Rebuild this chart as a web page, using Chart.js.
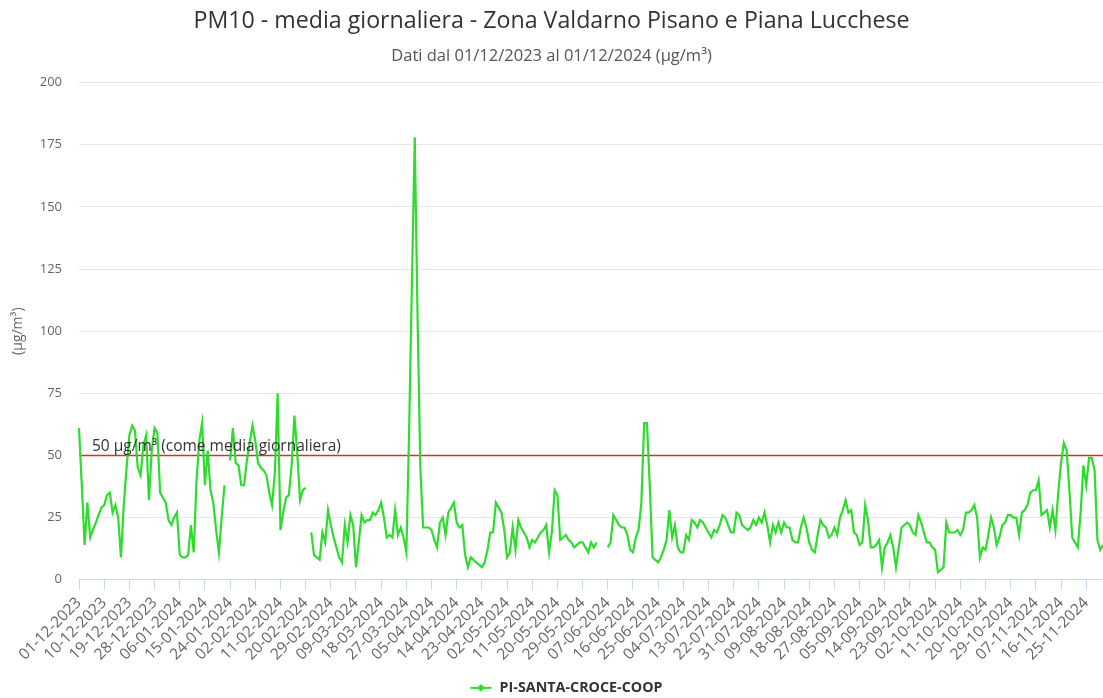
<!DOCTYPE html>
<html><head><meta charset="utf-8">
<script src="https://cdn.jsdelivr.net/npm/chart.js@4.4.1/dist/chart.umd.min.js"></script>
<style>html,body{margin:0;padding:0;background:#fff}#wrap{width:1103px;height:698px;position:relative}</style>
</head><body><div id="wrap"><canvas id="c"></canvas></div>
<script>
// ---- data ----
const titleText = 'PM10 - media giornaliera - Zona Valdarno Pisano e Piana Lucchese';
const subtitleText = 'Dati dal 01/12/2023 al 01/12/2024 (µg/m³)';
const seriesName = 'PI-SANTA-CROCE-COOP';
const startDay = [2023, 12, 1];   // first category (day/month/year labels built from it)
const dayCount = 367;             // 01-12-2023 ... 01-12-2024
const labelEvery = 9;             // a tick label every 9 days
const yTicks = [0, 25, 50, 75, 100, 125, 150, 175, 200];
const threshold = 50;
const thresholdLabel = '50 µg/m³ (come media giornaliera)';
const yTitle = '(µg/m³)';
const pm10 = [
  61, 38, 14, 31, 17, 20, 23, 26, 29, 30,
  34, 35, 27, 30, 25, 9, 30, 45, 58, 62,
  60, 45, 42, 54, 58, 32, 52, 61, 59, 35,
  33, 31, 24, 22, 25, 27, 10, 9, 9, 10,
  22, 11, 40, 56, 63, 38, 52, 36, 31, 20,
  11, 25, 38, null, 48, 61, 47, 46, 38, 38,
  48, 55, 62, 56, 47, 45, 44, 42, 35, 30,
  43, 75, 20, 27, 33, 34, 46, 66, 51, 32,
  36, 37, null, 19, 10, 9, 8, 19, 15, 28,
  22, 17, 13, 9, 7, 22, 15, 26, 22, 5,
  15, 26, 23, 24, 24, 27, 26, 28, 31, 25,
  17, 18, 17, 28, 18, 21, 17, 11, 60, 120,
  178, 106, 45, 21, 21, 21, 20, 16, 13, 23,
  25, 18, 27, 29, 31, 23, 21, 22, 10, 5,
  9, 8, 7, 6, 5, 7, 12, 19, 19, 31,
  29, 27, 20, 9, 11, 21, 12, 24, 21, 19,
  17, 13, 16, 15, 17, 19, 20, 22, 11, 19,
  36, 34, 16, 17, 18, 16, 15, 13, 14, 15,
  15, 13, 11, 15, 13, 15, null, null, null, 13,
  15, 26, 24, 22, 21, 21, 18, 12, 11, 17,
  20, 31, 63, 63, 38, 9, 8, 7, 9, 12,
  16, 28, 17, 22, 13, 11, 11, 18, 16, 24,
  23, 21, 24, 23, 21, 19, 17, 20, 19, 22,
  26, 25, 22, 19, 19, 27, 26, 22, 21, 20,
  21, 24, 22, 25, 23, 27, 22, 15, 22, 19,
  23, 19, 23, 21, 21, 16, 15, 15, 21, 25,
  21, 15, 12, 11, 18, 24, 22, 21, 17, 18,
  21, 18, 25, 28, 32, 27, 28, 19, 18, 14,
  15, 30, 24, 13, 13, 14, 16, 5, 13, 15,
  18, 13, 5, 13, 21, 22, 23, 22, 19, 18,
  26, 23, 19, 15, 15, 13, 12, 3, 4, 5,
  23, 19, 19, 19, 20, 18, 20, 27, 27, 28,
  30, 25, 9, 13, 12, 18, 25, 21, 14, 17,
  22, 23, 26, 26, 25, 25, 18, 27, 28, 30,
  35, 36, 36, 40, 26, 27, 28, 21, 28, 20,
  35, 47, 55, 52, 36, 17, 15, 13, 27, 46,
  38, 49, 49, 44, 16, 12, 14
];

// ---- categories (dates) ----
const pad2 = n => String(n).padStart(2, '0');
const categories = [];
for (let i = 0; i < dayCount; i++) {
  const d = new Date(Date.UTC(startDay[0], startDay[1] - 1, startDay[2] + i));
  categories.push(pad2(d.getUTCDate()) + '-' + pad2(d.getUTCMonth() + 1) + '-' + d.getUTCFullYear());
}

// ---- style ----
const FONT = "'Open Sans', sans-serif";
Chart.defaults.font.family = FONT;
Chart.defaults.color = '#666';
const green = '#2edc2e';

// legend symbol: line with diamond (left part kept blank to shift the item like the reference)
const sym = document.createElement('canvas');
sym.width = 52; sym.height = 10;
(function () {
  const g = sym.getContext('2d');
  const x0 = 30;
  g.strokeStyle = green; g.lineWidth = 2;
  g.beginPath(); g.moveTo(x0, 5); g.lineTo(x0 + 21, 5); g.stroke();
  g.fillStyle = green;
  g.beginPath(); g.moveTo(x0 + 10.5, 1); g.lineTo(x0 + 14.5, 5); g.lineTo(x0 + 10.5, 9); g.lineTo(x0 + 6.5, 5); g.closePath(); g.fill();
})();

const thresholdPlugin = {
  id: 'threshold',
  beforeDatasetsDraw(chart) {
    const {ctx, chartArea, scales: {y}} = chart;
    const py = y.getPixelForValue(threshold);
    ctx.save();
    ctx.strokeStyle = '#cc3333'; ctx.lineWidth = 1.5;
    ctx.beginPath(); ctx.moveTo(chartArea.left, py); ctx.lineTo(chartArea.right, py); ctx.stroke();
    ctx.restore();
  },
  afterDatasetsDraw(chart) {
    const {ctx, chartArea, scales: {y}} = chart;
    const py = y.getPixelForValue(threshold);
    ctx.save();
    ctx.fillStyle = '#333'; ctx.font = "15.5px " + FONT; ctx.textBaseline = 'bottom';
    ctx.fillText(thresholdLabel, chartArea.left + 13, py - 1);
    ctx.restore();
  }
};

new Chart(document.getElementById('c'), {
  type: 'line',
  data: {
    labels: categories,
    datasets: [{
      label: seriesName,
      data: pm10,
      borderColor: green,
      backgroundColor: green,
      borderWidth: 2.2,
      pointRadius: 0,
      pointHoverRadius: 0,
      tension: 0,
      spanGaps: false
    }]
  },
  options: {
    responsive: true,
    maintainAspectRatio: false,
    animation: false,
    layout: { padding: { top: 0, right: 0, bottom: -7, left: 0 } },
    plugins: {
      title: { display: true, text: titleText, color: '#333', font: { size: 23.2, weight: 'normal' }, padding: { top: 7, bottom: 7 } },
      subtitle: { display: true, text: subtitleText, color: '#555', font: { size: 16.5 }, padding: { top: 5, bottom: 16 } },
      legend: {
        position: 'bottom',
        labels: { usePointStyle: true, pointStyle: sym, pointStyleWidth: 52, padding: 4, color: '#333', font: { size: 14.3, weight: 'bold' } }
      },
      tooltip: { enabled: false }
    },
    scales: {
      x: {
        type: 'category',
        grid: { display: true, drawOnChartArea: false, drawTicks: true, tickLength: 10, color: '#ccd6eb' },
        border: { display: true, color: '#ccd6eb' },
        ticks: {
          autoSkip: false, maxRotation: 45, minRotation: 45, padding: 4,
          color: '#666', font: { size: 15.5 },
          callback: (v, i) => (i % labelEvery === 0 ? categories[i] : null)
        },
        afterFit: s => { s.height = 97; s.paddingLeft = 0; s.paddingRight = 0; }
      },
      y: {
        min: yTicks[0], max: yTicks[yTicks.length - 1],
        afterBuildTicks: s => { s.ticks = yTicks.map(v => ({ value: v })); },
        grid: { color: '#e6e6e6', drawTicks: false },
        border: { display: false },
        ticks: { padding: 17, color: '#666', font: { size: 13 } },
        title: { display: true, text: yTitle, color: '#666', font: { size: 14 }, padding: { top: 10, bottom: 0 } },
        afterFit: s => { s.width = 79; }
      }
    }
  },
  plugins: [thresholdPlugin]
});
</script>
</body></html>
